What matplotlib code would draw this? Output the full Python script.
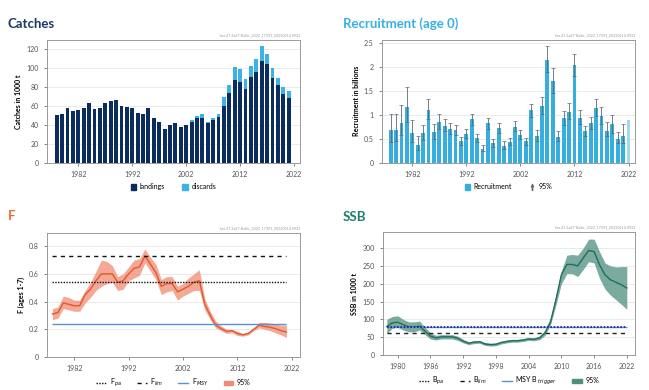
import matplotlib
matplotlib.use("Agg")
import matplotlib.pyplot as plt
from matplotlib.lines import Line2D
from matplotlib.patches import Patch
import numpy as np

plt.rcParams['font.family'] = ['Lato', 'DejaVu Sans']

# ---- data ----
anos_capturas = list(range(1978, 2022))
desembarques = [50, 51, 57, 54, 55, 57, 63, 56, 57, 63, 65, 66, 60, 58, 57, 52, 51, 57, 47, 43,
                35, 40, 42, 37, 40, 43, 47, 47, 42, 45, 48, 59, 73, 87, 85, 77, 90, 95, 107, 104,
                89, 82, 72, 68]
rejeicoes = [0, 0, 0, 0, 0, 0, 0, 0, 0, 0, 0, 0, 0, 0, 0, 0, 0, 0, 0, 0,
             0, 0, 0, 0, 0, 2, 2, 4, 1, 2, 3, 10, 9, 14, 13, 11, 12, 14, 16, 10,
             10, 7, 7, 7]

anos_recr = list(range(1978, 2023))
recrutamento = [0.68, 0.68, 0.83, 1.17, 0.61, 0.37, 0.61, 1.10, 0.64, 0.84, 0.77, 0.70, 0.68, 0.44,
                0.60, 0.90, 0.51, 0.29, 0.82, 0.40, 0.72, 0.35, 0.42, 0.75, 0.58, 0.44, 1.09, 0.55,
                1.18, 2.15, 1.71, 0.53, 0.92, 1.06, 2.03, 0.93, 0.65, 0.82, 1.14, 0.98, 0.66, 0.80,
                0.49, 0.56, 0.89]
recr_sup = [1.01, 1.01, 1.21, 1.57, 0.89, 0.55, 0.79, 1.32, 0.81, 1.02, 0.91, 0.82, 0.78, 0.53,
            0.70, 1.02, 0.60, 0.36, 0.93, 0.49, 0.83, 0.44, 0.51, 0.86, 0.67, 0.52, 1.22, 0.67,
            1.36, 2.44, 1.98, 0.65, 1.08, 1.25, 2.26, 1.09, 0.77, 0.96, 1.33, 1.17, 0.84, 1.00,
            0.64, 0.81]
recr_inf = [0.42, 0.45, 0.58, 0.85, 0.42, 0.27, 0.47, 0.90, 0.50, 0.70, 0.65, 0.60, 0.58, 0.36,
            0.51, 0.78, 0.43, 0.24, 0.70, 0.33, 0.62, 0.28, 0.36, 0.65, 0.50, 0.37, 0.95, 0.45,
            1.02, 1.90, 1.45, 0.45, 0.78, 0.90, 1.80, 0.80, 0.55, 0.70, 0.98, 0.80, 0.55, 0.62,
            0.40, 0.40]

anos_f = list(range(1978, 2022))
f_val = [0.31, 0.32, 0.39, 0.38, 0.37, 0.37, 0.45, 0.49, 0.55, 0.60, 0.60, 0.60, 0.54, 0.55,
         0.60, 0.64, 0.65, 0.73, 0.67, 0.61, 0.51, 0.53, 0.53, 0.47, 0.49, 0.51, 0.54, 0.55,
         0.38, 0.30, 0.23, 0.205, 0.185, 0.19, 0.17, 0.16, 0.17, 0.20, 0.23, 0.22, 0.215, 0.205,
         0.19, 0.18]
f_sup = [0.35, 0.36, 0.44, 0.43, 0.41, 0.41, 0.48, 0.54, 0.62, 0.70, 0.69, 0.66, 0.58, 0.60,
         0.65, 0.70, 0.71, 0.78, 0.72, 0.67, 0.56, 0.58, 0.58, 0.51, 0.53, 0.57, 0.60, 0.63,
         0.42, 0.33, 0.26, 0.225, 0.20, 0.20, 0.185, 0.17, 0.18, 0.21, 0.25, 0.25, 0.245, 0.24,
         0.23, 0.23]
f_inf = [0.27, 0.28, 0.35, 0.34, 0.33, 0.33, 0.39, 0.43, 0.48, 0.51, 0.53, 0.54, 0.48, 0.49,
         0.55, 0.57, 0.59, 0.68, 0.62, 0.56, 0.45, 0.47, 0.48, 0.41, 0.44, 0.46, 0.48, 0.48,
         0.34, 0.27, 0.21, 0.19, 0.17, 0.175, 0.155, 0.15, 0.16, 0.19, 0.21, 0.20, 0.19, 0.175,
         0.16, 0.14]
f_pa, f_lim, f_msy = 0.54, 0.73, 0.24

anos_ssb = list(range(1978, 2023))
ssb = [80, 90, 92, 85, 79, 78, 81, 67, 53, 48, 51, 51, 51, 47, 39, 33, 36, 37, 31, 29,
       30, 35, 38, 40, 40, 42, 45, 44, 48, 62, 92, 155, 225, 254, 254, 250, 272, 293, 290, 253,
       225, 211, 204, 197, 188]
ssb_sup = [100, 108, 110, 100, 93, 93, 95, 78, 62, 55, 57, 57, 57, 53, 44, 37, 40, 41, 35, 33,
           34, 39, 42, 44, 44, 46, 49, 48, 53, 70, 105, 165, 235, 280, 282, 280, 300, 325, 325, 290,
           258, 250, 247, 248, 248]
ssb_inf = [60, 75, 78, 70, 65, 65, 70, 57, 45, 42, 45, 45, 45, 41, 34, 29, 32, 33, 27, 25,
           26, 31, 34, 36, 36, 38, 41, 40, 43, 55, 85, 140, 200, 228, 228, 220, 240, 262, 258, 215,
           185, 168, 155, 142, 128]
b_pa, b_lim, b_trigger = 78, 62, 78

# ---- layout ----
W, H = 649, 390
fig = plt.figure(figsize=(W / 100, H / 100), dpi=100)
marca = "her.27.3a47-Baltic_2022_17391_20220614 0922"


def eixo(l, t, r, b):
    ax = fig.add_axes([l / W, 1 - b / H, (r - l) / W, (b - t) / H])
    for s in ax.spines.values():
        s.set_color('#9a9a9a')
        s.set_linewidth(0.7)
    ax.tick_params(labelsize=5, colors='#555555', length=2.5, width=0.5)
    ax.grid(axis='y', color='#e6e6e6', linewidth=0.6)
    ax.set_axisbelow(True)
    ax.text(1.0, 1.02, marca, transform=ax.transAxes, ha='right', va='bottom',
            fontsize=2.6, color='#9a9a9a')
    return ax


def titulo(x, y, texto, cor):
    fig.text(x / W, 1 - y / H, texto, fontsize=9.5, fontweight='bold', color=cor,
             ha='left', va='center')


# Catches
titulo(8, 24, 'Catches', '#1c3867')
ax1 = eixo(47, 40, 300, 162.5)
ax1.bar(anos_capturas, desembarques, width=0.72, color='#0b2c5e')
ax1.bar(anos_capturas, rejeicoes, bottom=desembarques, width=0.72, color='#3db2e4')
ax1.set_xlim(1976.2, 2023.1)
ax1.set_ylim(0, 129)
ax1.set_yticks(range(0, 121, 20))
ax1.set_xticks(range(1982, 2023, 10))
ax1.set_ylabel('Catches in 1000 t', fontsize=5, fontweight='bold', labelpad=3)
ax1.legend(handles=[Patch(color='#0b2c5e', label='landings'), Patch(color='#3db2e4', label='discards')],
           loc='upper center', bbox_to_anchor=(0.5, -0.12), ncol=2, frameon=False,
           fontsize=5, handlelength=0.8, handleheight=0.8, columnspacing=2.5, handletextpad=0.5)

# Recruitment
titulo(343, 24, 'Recruitment (age 0)', '#37b1e3')
ax2 = eixo(382, 40, 635, 162.5)
cores = ['#36afe0'] * (len(anos_recr) - 1) + ['#9fd9f2']
ax2.bar(anos_recr, recrutamento, width=0.72, color=cores)
n = len(recr_sup)
err = [np.array(recrutamento[:n]) - np.array(recr_inf), np.array(recr_sup) - np.array(recrutamento[:n])]
ax2.errorbar(anos_recr[:n], recrutamento[:n], yerr=err, fmt='none', ecolor='#5a6a72',
             elinewidth=0.6, capsize=1.3, capthick=0.5)
ax2.set_xlim(1976.4, 2023.2)
ax2.set_ylim(0, 2.56)
ax2.set_yticks([0, 0.5, 1, 1.5, 2, 2.5])
ax2.set_yticklabels(['0', '0.5', '1', '1.5', '2', '2.5'])
ax2.set_xticks(range(1982, 2023, 10))
ax2.set_ylabel('Recruitment in billions', fontsize=5, fontweight='bold', labelpad=3)
ax2.legend(handles=[Patch(color='#36afe0', label='Recruitment'),
                    Line2D([], [], color='#5a6a72', marker='$\u2020$', linestyle='none',
                           markersize=4, label='95%')],
           loc='upper center', bbox_to_anchor=(0.5, -0.12), ncol=2, frameon=False,
           fontsize=5, handlelength=0.8, handleheight=0.8, columnspacing=2.5, handletextpad=0.5)

# F
titulo(8, 216, 'F', '#ee6a2c')
ax3 = eixo(47, 233, 300, 357)
ax3.fill_between(anos_f, f_inf, f_sup, color='#f08c72', alpha=0.75, linewidth=0)
ax3.plot(anos_f, f_val, color='#e2582f', linewidth=1.0)
ax3.hlines(f_msy, anos_f[0], anos_f[-1], color='#5b8fd6', linewidth=1.0)
ax3.hlines(f_pa, anos_f[0], anos_f[-1], color='#111111', linewidth=1.0, linestyle=(0, (1, 1)))
ax3.hlines(f_lim, anos_f[0], anos_f[-1], color='#111111', linewidth=1.0, linestyle=(0, (3, 3)))
ax3.set_xlim(1977.0, 2023.5)
ax3.set_ylim(0, 0.895)
ax3.set_yticks([0, 0.2, 0.4, 0.6, 0.8])
ax3.set_yticklabels(['0', '0.2', '0.4', '0.6', '0.8'])
ax3.set_xticks(range(1982, 2023, 10))
ax3.set_ylabel('F (ages 1-7)', fontsize=5, fontweight='bold', labelpad=3)
ax3.legend(handles=[Line2D([], [], color='#111111', lw=1, ls=(0, (1, 1)), label='F$_{pa}$'),
                    Line2D([], [], color='#111111', lw=1, ls=(0, (3, 3)), label='F$_{lim}$'),
                    Line2D([], [], color='#5b8fd6', lw=1, label='F$_{MSY}$'),
                    Patch(color='#f08c72', label='95%')],
           loc='upper center', bbox_to_anchor=(0.5, -0.11), ncol=4, frameon=False,
           fontsize=5, handlelength=1.4, handleheight=0.5, columnspacing=2.2, handletextpad=0.5)

# SSB
titulo(343, 217, 'SSB', '#1d7d6b')
ax4 = eixo(383, 232, 635, 355)
ax4.fill_between(anos_ssb, ssb_inf, ssb_sup, color='#4f8f7f', alpha=0.75, linewidth=0)
ax4.plot(anos_ssb, ssb, color='#1f6e5e', linewidth=1.0)
ax4.hlines(b_trigger, anos_ssb[0], anos_ssb[-1], color='#5b8fd6', linewidth=1.0)
ax4.hlines(b_pa, anos_ssb[0], anos_ssb[-1], color='#1a237e', linewidth=1.2, linestyle=(0, (1, 1)))
ax4.hlines(b_lim, anos_ssb[0], anos_ssb[-1], color='#222222', linewidth=1.0, linestyle=(0, (3, 3)))
ax4.set_xlim(1977.3, 2023.5)
ax4.set_ylim(0, 345)
ax4.set_yticks(range(0, 301, 50))
ax4.set_xticks(range(1980, 2023, 6))
ax4.set_ylabel('SSB in 1000 t', fontsize=5, fontweight='bold', labelpad=3)
ax4.legend(handles=[Line2D([], [], color='#111111', lw=1, ls=(0, (1, 1)), label='B$_{pa}$'),
                    Line2D([], [], color='#111111', lw=1, ls=(0, (3, 3)), label='B$_{lim}$'),
                    Line2D([], [], color='#5b8fd6', lw=1, label='MSY B $_{trigger}$'),
                    Patch(color='#4f8f7f', label='95%')],
           loc='upper center', bbox_to_anchor=(0.5, -0.11), ncol=4, frameon=False,
           fontsize=5, handlelength=1.4, handleheight=0.5, columnspacing=2.2, handletextpad=0.5)

fig.savefig('out.png', dpi=100)
